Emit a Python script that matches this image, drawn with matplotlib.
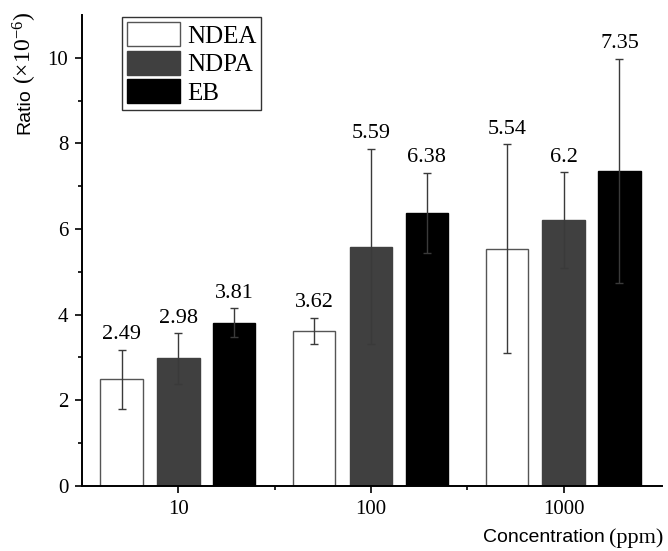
import matplotlib.pyplot as plt
import numpy as np

plt.rcParams["mathtext.fontset"] = "custom"
plt.rcParams["mathtext.rm"] = "Liberation Serif"
plt.rcParams["font.family"] = "Liberation Serif"

concentrations = ["10", "100", "1000"]
series_names = ["NDEA", "NDPA", "EB"]
ratios = [
    [2.49, 3.62, 5.54],
    [2.98, 5.59, 6.20],
    [3.81, 6.38, 7.35],
]
errors = [
    [0.69, 0.31, 2.44],
    [0.59, 2.28, 1.12],
    [0.34, 0.93, 2.62],
]
value_labels = [
    ["2.49", "3.62", "5.54"],
    ["2.98", "5.59", "6.2"],
    ["3.81", "6.38", "7.35"],
]

face_colors = ["white", "#404040", "black"]
edge_colors = ["#555555", "#404040", "black"]

fig = plt.figure(figsize=(6.68, 5.51), dpi=100)
ax = fig.add_axes([0.1228, 0.118, 0.868, 0.855])

x = np.arange(len(concentrations))
width = 0.22
offsets = [-0.295, 0.0, 0.29]

for i, name in enumerate(series_names):
    pos = x + offsets[i]
    ax.bar(pos, ratios[i], width, color=face_colors[i], edgecolor=edge_colors[i],
           linewidth=1.0, label=name, zorder=2)
    ax.errorbar(pos, ratios[i], yerr=errors[i], fmt="none", ecolor="#3a3a3a",
                elinewidth=1.0, capsize=3, capthick=1.0, zorder=3)
    for px, val, err, lab in zip(pos, ratios[i], errors[i], value_labels[i]):
        ax.annotate(lab, (px, val + err), xytext=(0, 4), textcoords="offset points",
                    ha="center", va="bottom", fontsize=16)

ax.set_xlim(-0.5, 2.51)
ax.set_ylim(0, 11)
ax.set_xticks(x)
ax.set_xticklabels(concentrations)
ax.set_xticks([0.5, 1.5], minor=True)
ax.set_yticks([0, 2, 4, 6, 8, 10])
ax.set_yticks([1, 3, 5, 7, 9], minor=True)
ax.tick_params(axis="both", which="major", direction="out", length=5, width=1.2,
               labelsize=15, pad=5)
ax.tick_params(axis="both", which="minor", direction="out", length=3, width=1.2)

for side in ["top", "right"]:
    ax.spines[side].set_visible(False)
for side in ["left", "bottom"]:
    ax.spines[side].set_linewidth(1.4)

# y label: sans "Ratio" followed by serif unit part
ratio_txt = fig.text(25 / 668, 1 - 111 / 551, "Ratio", rotation=90, ha="center",
                     va="center", fontsize=14, family="Liberation Sans")
ax.annotate(r"$\mathrm{(\times10^{-6})}$", xy=(0.5, 1.0), xycoords=ratio_txt,
            xytext=(0, 3), textcoords="offset points", rotation=90,
            ha="center", va="bottom", fontsize=17)

# x label: sans "Concentration" followed by serif "(ppm)"
ppm_txt = fig.text(663 / 668, 1 - 538 / 551, "(ppm)", ha="right", va="center",
                   fontsize=16)
ax.annotate("Concentration", xy=(0.0, 0.5), xycoords=ppm_txt, xytext=(-3, 0),
            textcoords="offset points", ha="right", va="center", fontsize=14,
            family="Liberation Sans")

leg = ax.legend(loc="upper left", bbox_to_anchor=(0.069, 0.995), fontsize=18,
                frameon=True, fancybox=False, edgecolor="#333333", framealpha=1,
                handlelength=2.1, handleheight=1.1, labelspacing=0.12,
                borderpad=0.2, handletextpad=0.3, borderaxespad=0)
leg.get_frame().set_linewidth(1.0)

fig.savefig("out.png", dpi=100)
